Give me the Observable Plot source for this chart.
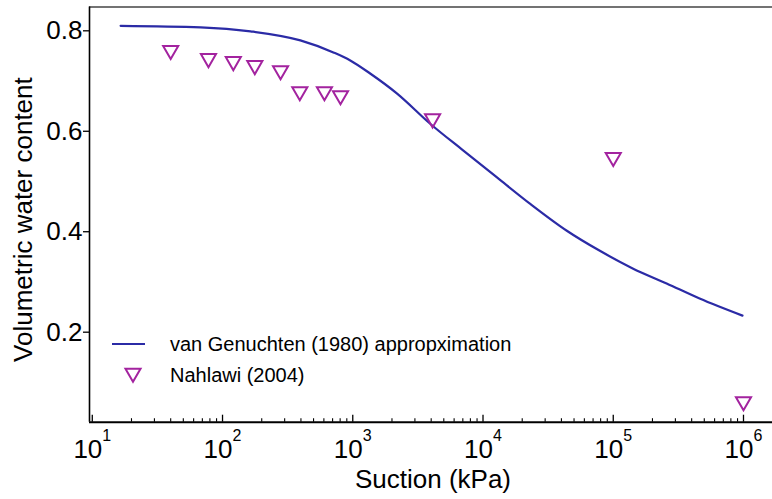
<!DOCTYPE html>
<html>
<head>
<meta charset="utf-8">
<script src="https://cdn.jsdelivr.net/npm/d3@7"></script>
<script src="https://cdn.jsdelivr.net/npm/@observablehq/plot@0.6"></script>
<style>
  html, body { margin: 0; padding: 0; background: #fff; }
  #chart { width: 772px; height: 499px; }
  #chart svg { font-family: "Liberation Sans", Arial, sans-serif; }
</style>
</head>
<body>
<div id="chart"></div>
<script>
// van Genuchten (1980) fitted retention curve: suction (kPa) and volumetric water content
const fitSuction = [16.5, 68, 164, 396, 710, 957, 1360, 2190, 3930, 7030, 12800, 22900, 44000, 78900, 141000, 257000, 460000, 982000];
const fitTheta   = [0.810, 0.807, 0.799, 0.781, 0.757, 0.741, 0.715, 0.675, 0.615, 0.562, 0.508, 0.456, 0.402, 0.362, 0.327, 0.297, 0.267, 0.233];

// Nahlawi (2004) measurements
const obsSuction = [40, 78, 121, 177, 279, 392, 606, 805, 4100, 100000, 1000000];
const obsTheta   = [0.757, 0.741, 0.735, 0.727, 0.717, 0.675, 0.675, 0.667, 0.621, 0.544, 0.058];

// Axis ticks
const xTickExponents = [1, 2, 3, 4, 5, 6];
const yTickValues = [0.2, 0.4, 0.6, 0.8];

// Legend entries and axis titles
const legendLabels = ["van Genuchten (1980) appropximation", "Nahlawi (2004)"];
const xTitle = "Suction (kPa)";
const yTitle = "Volumetric water content";

const fit = fitSuction.map((s, i) => ({suction: s, theta: fitTheta[i]}));
const obs = obsSuction.map((s, i) => ({suction: s, theta: obsTheta[i]}));

const W = 772, H = 499;
const mL = 89, mT = 6.5, mB = 77.3, mR = 0;
const xDomain = [9.52, 1.67e6];
const yDomain = [0.0208, 0.8474];
const plotH = H - mT - mB;

const lineColor = "#2b2ba6";
const markColor = "#a3239f";

const majorTicks = xTickExponents.map(e => 10 ** e);
const minorTicks = [];
for (const e of xTickExponents) {
  for (let k = 2; k <= 9; k++) {
    const v = k * 10 ** e;
    if (v <= xDomain[1]) minorTicks.push(v);
  }
}

const chart = Plot.plot({
  width: W,
  height: H,
  marginLeft: mL,
  marginTop: mT,
  marginBottom: mB,
  marginRight: mR,
  style: {fontFamily: "'Liberation Sans', Arial, sans-serif", color: "#000", background: "#fff", overflow: "visible"},
  x: {type: "log", domain: xDomain},
  y: {domain: yDomain},
  marks: [
    // inward tick marks on the suction axis
    Plot.ruleX(majorTicks, {insetTop: plotH - 7, stroke: "#000", strokeWidth: 1.3}),
    Plot.ruleX(minorTicks, {insetTop: plotH - 3.5, stroke: "#000", strokeWidth: 1.1}),
    Plot.axisX({ticks: majorTicks, tickSize: 0, tickPadding: 17, fontSize: 26, label: null,
      tickFormat: d => String(Math.round(Math.log10(d)))}),
    Plot.axisY({ticks: yTickValues, tickSize: 6, tickPadding: 1, fontSize: 26, label: null,
      tickFormat: d3.format(".1f"), strokeWidth: 1.3}),
    // frame lines: top, left, bottom
    Plot.ruleY([yDomain[1]], {stroke: "#444", strokeWidth: 1.5}),
    Plot.ruleX([xDomain[0]], {stroke: "#000", strokeWidth: 1.6}),
    Plot.ruleY([yDomain[0]], {stroke: "#000", strokeWidth: 2}),
    Plot.line(fit, {x: "suction", y: "theta", curve: "monotone-x", stroke: lineColor, strokeWidth: 2.2}),
    // downward triangles, nudged so the marker's box (not its centroid) sits on the value
    Plot.dot(obs, {x: "suction", y: "theta", symbol: "triangle", rotate: 180, r: 5.6, dy: -2,
      stroke: markColor, strokeWidth: 2, fill: "none"}),
    Plot.text([yTitle], {frameAnchor: "left", dx: -66, dy: 5, rotate: -90, textAnchor: "middle",
      lineAnchor: "middle", fontSize: 26, fill: "#000"}),
    Plot.text([xTitle], {frameAnchor: "bottom", dx: 2, dy: 57, textAnchor: "middle",
      lineAnchor: "middle", fontSize: 26, fill: "#000"})
  ]
});

document.getElementById("chart").appendChild(chart);

const svg = d3.select(chart);

// powers of ten: "10" with a raised exponent
svg.selectAll('g[aria-label="x-axis tick label"] text').each(function () {
  const exp = this.textContent;
  const t = d3.select(this);
  t.text("10");
  t.append("tspan").attr("dy", -17).attr("font-size", 16).text(exp);
});

// legend inside the plot area
const lg = svg.append("g")
  .attr("font-family", "'Liberation Sans', Arial, sans-serif")
  .attr("font-size", 20)
  .attr("text-anchor", "start")
  .attr("fill", "#000");
lg.append("line")
  .attr("x1", 112).attr("x2", 145).attr("y1", 344).attr("y2", 344)
  .attr("stroke", lineColor).attr("stroke-width", 2.2);
lg.append("path")
  .attr("d", d3.symbol(d3.symbolTriangle, Math.PI * 5.6 * 5.6)())
  .attr("transform", "translate(133,373) rotate(180)")
  .attr("fill", "none").attr("stroke", markColor).attr("stroke-width", 2);
lg.selectAll("text.entry")
  .data(legendLabels)
  .join("text")
  .attr("class", "entry")
  .attr("x", 170)
  .attr("y", (d, i) => 344 + i * 31)
  .attr("dy", "0.35em")
  .text(d => d);
</script>
</body>
</html>
